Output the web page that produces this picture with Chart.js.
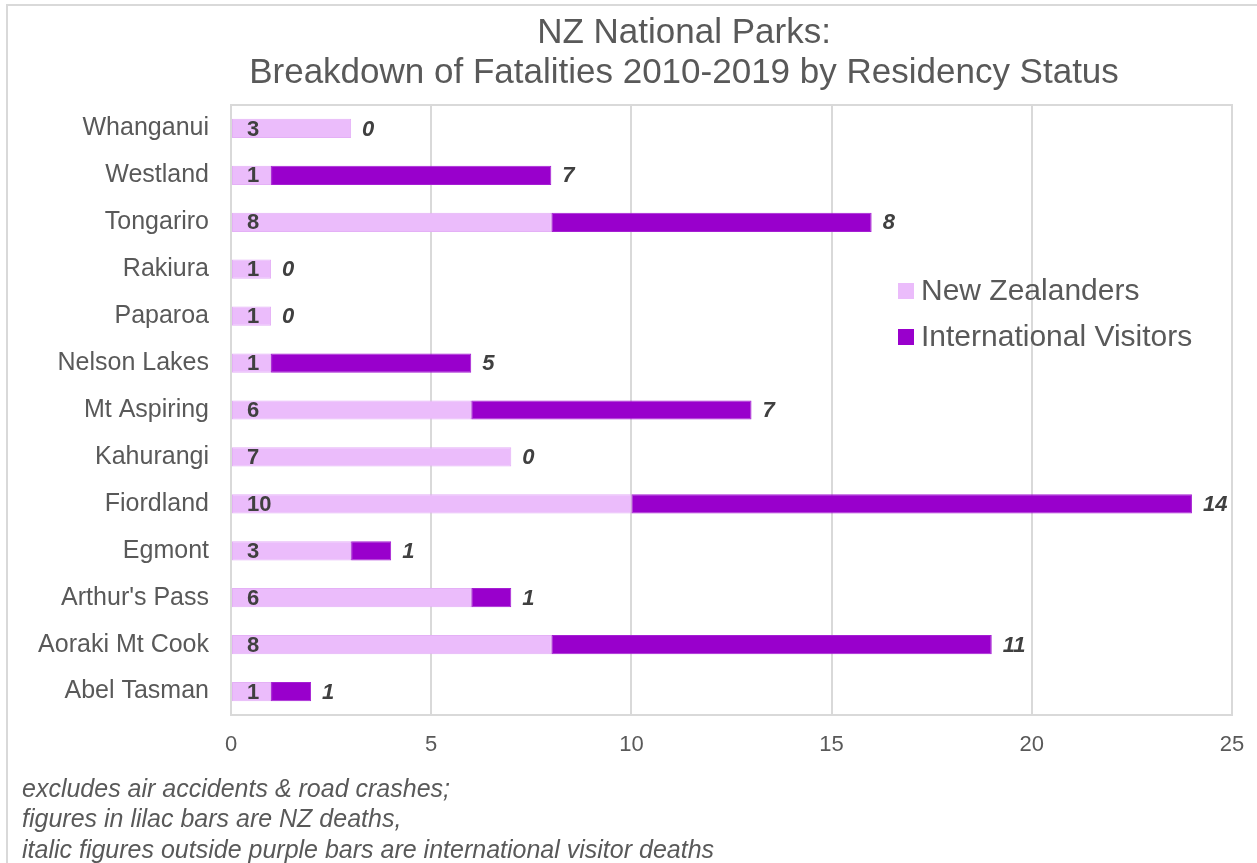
<!DOCTYPE html>
<html>
<head>
<meta charset="utf-8">
<title>NZ National Parks: Breakdown of Fatalities 2010-2019 by Residency Status</title>
<script src="https://cdn.jsdelivr.net/npm/chart.js@4/dist/chart.umd.min.js"></script>
<style>
  html, body { margin: 0; padding: 0; background: #ffffff; }
  #wrap { width: 1257px; height: 863px; }
</style>
</head>
<body>
<div id="wrap"><canvas id="chart" width="1257" height="863"></canvas></div>
<script>
// Parks, listed top to bottom
const parks = [
  "Whanganui", "Westland", "Tongariro", "Rakiura", "Paparoa", "Nelson Lakes",
  "Mt Aspiring", "Kahurangi", "Fiordland", "Egmont", "Arthur's Pass",
  "Aoraki Mt Cook", "Abel Tasman"
];
// Fatalities 2010-2019
const nzDeaths   = [3, 1, 8, 1, 1, 1, 6, 7, 10, 3, 6, 8, 1];
const intlDeaths = [0, 7, 8, 0, 0, 5, 7, 0, 14, 1, 1, 11, 1];
const xTicks = [0, 5, 10, 15, 20, 25];

const titleLines = ["NZ National Parks:", "Breakdown of Fatalities 2010-2019 by Residency Status"];
const footnotes = [
  "excludes air accidents & road crashes;",
  "figures in lilac bars are NZ deaths,",
  "italic figures outside purple bars are international visitor deaths"
];

const LILAC = "#EBBCFB";
const PURPLE = "#9900CC";
const TEXT = "#595959";
const LABEL = "#404040";
const LINE = "#D9D9D9";
const FONT = "'Liberation Sans', Arial, sans-serif";

const decorations = {
  id: "decorations",
  beforeDraw(chart) {
    const ctx = chart.ctx;
    ctx.save();
    ctx.fillStyle = "#ffffff";
    ctx.fillRect(0, 0, chart.width, chart.height);
    // outer frame (top and left edges)
    ctx.strokeStyle = LINE;
    ctx.lineWidth = 2;
    ctx.beginPath();
    ctx.moveTo(7, chart.height);
    ctx.lineTo(7, 5);
    ctx.lineTo(chart.width, 5);
    ctx.stroke();
    ctx.restore();
  },
  beforeDatasetsDraw(chart) {
    const ctx = chart.ctx, a = chart.chartArea;
    ctx.save();
    ctx.strokeStyle = LINE;
    ctx.lineWidth = 2;
    ctx.strokeRect(a.left, a.top, a.right - a.left, a.bottom - a.top);
    ctx.restore();
  },
  afterDatasetsDraw(chart) {
    const ctx = chart.ctx;
    ctx.save();
    ctx.fillStyle = LABEL;
    ctx.textBaseline = "middle";
    ctx.textAlign = "left";
    // NZ figures inside the lilac bars
    ctx.font = "bold 22px " + FONT;
    chart.getDatasetMeta(0).data.forEach((bar, i) => {
      ctx.fillText(String(nzDeaths[i]), bar.base + 15, bar.y + 1);
    });
    // international figures beyond the end of each stack
    ctx.font = "italic bold 22px " + FONT;
    chart.getDatasetMeta(1).data.forEach((bar, i) => {
      ctx.fillText(String(intlDeaths[i]), bar.x + 11, bar.y + 1);
    });
    ctx.restore();
  },
  afterDraw(chart) {
    const ctx = chart.ctx;
    ctx.save();
    // title
    ctx.fillStyle = TEXT;
    ctx.textAlign = "center";
    ctx.textBaseline = "middle";
    ctx.font = "35px " + FONT;
    ctx.fillText(titleLines[0], 684, 33);
    ctx.fillText(titleLines[1], 684, 73);
    // legend
    ctx.textAlign = "left";
    ctx.font = "30px " + FONT;
    chart.data.datasets.forEach((ds, i) => {
      const y = 291 + i * 46;
      ctx.fillStyle = ds.backgroundColor;
      ctx.fillRect(898, y - 8, 16, 16);
      ctx.fillStyle = TEXT;
      ctx.fillText(ds.label, 921, y + 1);
    });
    // footnote
    ctx.font = "italic 25px " + FONT;
    footnotes.forEach((t, i) => ctx.fillText(t, 22, 790 + i * 30.5));
    ctx.restore();
  }
};

new Chart(document.getElementById("chart"), {
  type: "bar",
  data: {
    labels: parks,
    datasets: [
      { label: "New Zealanders", data: nzDeaths, backgroundColor: LILAC,
        borderColor: "#E4B0F6", borderWidth: 1, borderSkipped: false },
      { label: "International Visitors", data: intlDeaths, backgroundColor: PURPLE,
        borderColor: "#A51FD3", borderWidth: 1, borderSkipped: false }
    ]
  },
  options: {
    indexAxis: "y",
    responsive: false,
    animation: false,
    devicePixelRatio: 1,
    layout: { padding: { top: 105, right: 25, left: 0, bottom: 0 } },
    datasets: { bar: { categoryPercentage: 1, barPercentage: 0.41 } },
    plugins: {
      legend: { display: false },
      title: { display: false },
      tooltip: { enabled: false }
    },
    scales: {
      x: {
        stacked: true,
        min: 0, max: 25,
        afterBuildTicks(scale) { scale.ticks = xTicks.map(v => ({ value: v })); },
        afterFit(scale) {
          scale.height = 148;
          scale.paddingLeft = 0;
          scale.paddingRight = 0;
        },
        grid: { color: LINE, lineWidth: 2, drawTicks: false },
        border: { display: false },
        ticks: { color: TEXT, font: { family: FONT, size: 22 }, padding: 17 }
      },
      y: {
        stacked: true,
        afterFit(scale) { scale.width = 231; },
        grid: { display: false, drawTicks: false },
        border: { display: false },
        ticks: { color: TEXT, font: { family: FONT, size: 25 }, padding: 22 }
      }
    }
  },
  plugins: [decorations]
});
</script>
</body>
</html>
